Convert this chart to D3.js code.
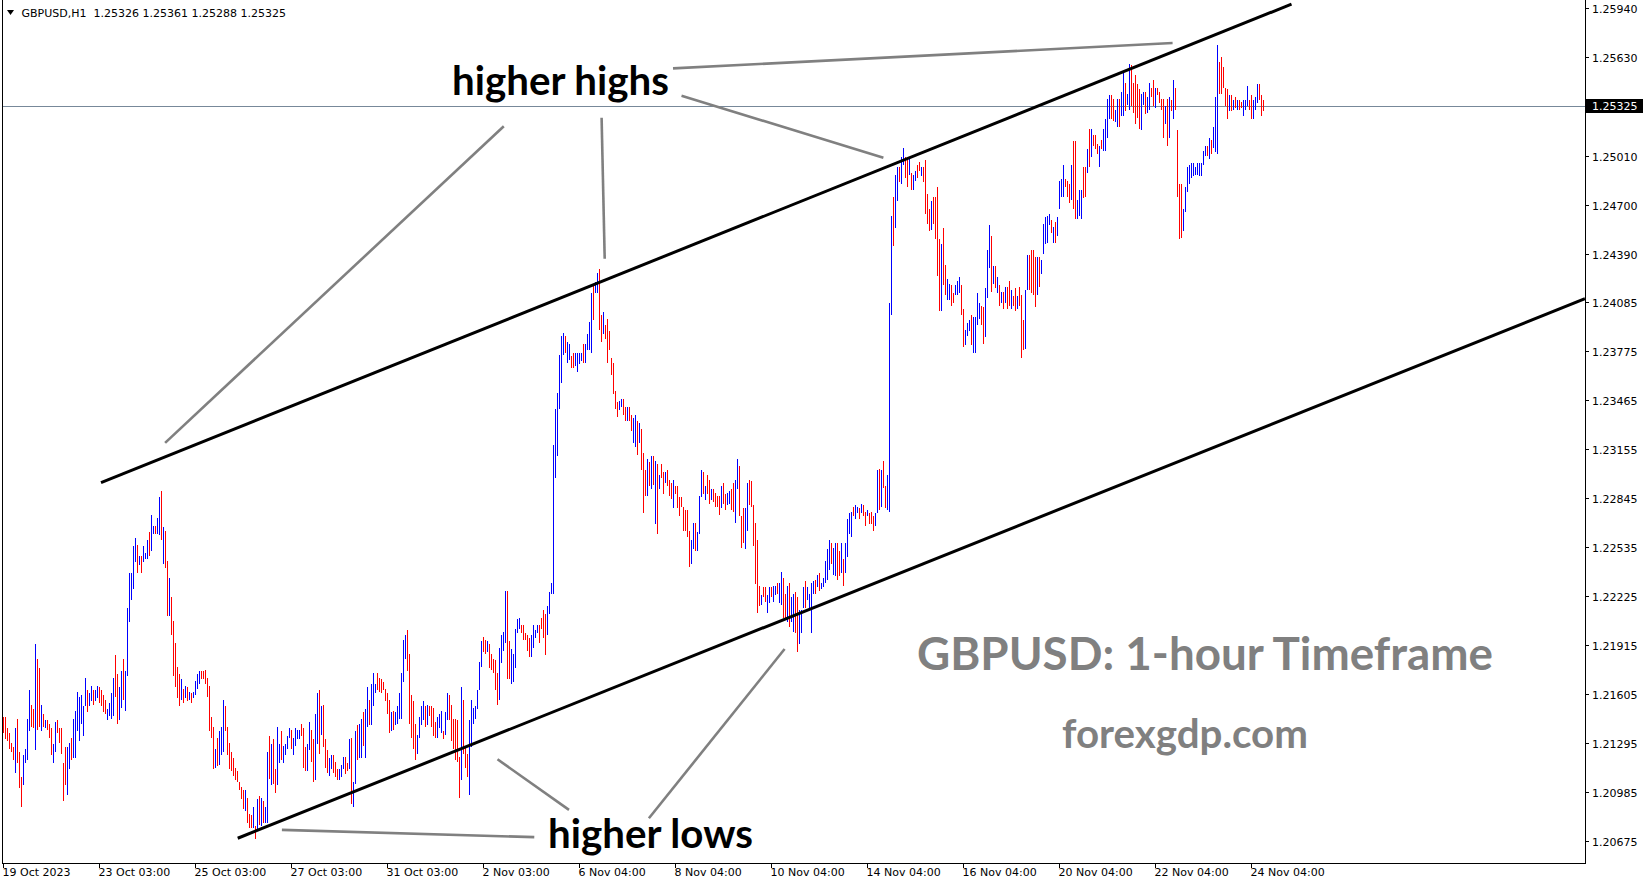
<!DOCTYPE html>
<html>
<head>
<meta charset="utf-8">
<script src="https://cdn.jsdelivr.net/npm/d3@7/dist/d3.min.js"></script>
<style>
html,body{margin:0;padding:0;background:#fff;}
svg{display:block;}
</style>
</head>
<body>
<svg id="chart" width="1649" height="884"></svg>
<script>
// ---- DATA (GBPUSD H1 bars, 19 Oct 2023 03:00 -> 24 Nov 2023 10:00) ----
const symbolTitle = "GBPUSD,H1";
const lastOHLC = ["1.25326", "1.25361", "1.25288", "1.25325"];
const currentPrice = 1.25325;

const highs = [
1.2146,1.2146,1.2139,1.2136,1.2130,1.2127,1.2139,1.2145,1.2124,1.2108,1.2122,1.2126,1.2145,1.2163,1.2154,1.2151,1.2192,1.2183,1.2177,1.2154,
1.2148,1.2144,1.2144,1.2142,1.2139,1.2129,1.2143,1.2144,1.2139,1.2139,1.2117,1.2127,1.2127,1.2130,1.2133,1.2145,1.2150,1.2162,1.2159,1.2160,
1.2153,1.2171,1.2163,1.2161,1.2166,1.2163,1.2163,1.2166,1.2165,1.2163,1.2160,1.2157,1.2151,1.2155,1.2161,1.2171,1.2185,1.2173,1.2165,1.2175,
1.2183,1.2175,1.2215,1.2237,1.2237,1.2254,1.2259,1.2255,1.2248,1.2248,1.2254,1.2250,1.2258,1.2263,1.2274,1.2267,1.2267,1.2272,1.2285,1.2289,
1.2266,1.2264,1.2245,1.2234,1.2222,1.2207,1.2193,1.2178,1.2173,1.2170,1.2164,1.2166,1.2165,1.2162,1.2161,1.2162,1.2169,1.2173,1.2175,1.2175,
1.2175,1.2176,1.2171,1.2166,1.2146,1.2140,1.2126,1.2133,1.2137,1.2140,1.2157,1.2153,1.2140,1.2130,1.2124,1.2120,1.2114,1.2112,1.2105,1.2102,
1.2100,1.2100,1.2095,1.2085,1.2084,1.2089,1.2077,1.2094,1.2096,1.2095,1.2093,1.2089,1.2124,1.2134,1.2129,1.2132,1.2113,1.2140,1.2129,1.2137,
1.2128,1.2129,1.2134,1.2139,1.2138,1.2133,1.2139,1.2138,1.2138,1.2142,1.2139,1.2127,1.2129,1.2143,1.2138,1.2132,1.2148,1.2161,1.2163,1.2153,
1.2154,1.2132,1.2125,1.2120,1.2122,1.2122,1.2118,1.2113,1.2113,1.2116,1.2121,1.2121,1.2117,1.2132,1.2133,1.2105,1.2137,1.2141,1.2142,1.2145,
1.2149,1.2151,1.2165,1.2157,1.2167,1.2174,1.2167,1.2174,1.2171,1.2170,1.2168,1.2164,1.2161,1.2157,1.2149,1.2150,1.2149,1.2153,1.2161,1.2174,
1.2195,1.2198,1.2201,1.2186,1.2160,1.2156,1.2142,1.2135,1.2146,1.2153,1.2156,1.2153,1.2154,1.2153,1.2153,1.2152,1.2143,1.2146,1.2148,1.2150,
1.2137,1.2149,1.2161,1.2160,1.2154,1.2145,1.2145,1.2144,1.2121,1.2165,1.2157,1.2128,1.2123,1.2144,1.2157,1.2152,1.2153,1.2163,1.2181,1.2194,
1.2197,1.2195,1.2194,1.2192,1.2186,1.2183,1.2182,1.2174,1.2190,1.2198,1.2200,1.2226,1.2226,1.2194,1.2189,1.2186,1.2202,1.2208,1.2209,1.2204,
1.2204,1.2199,1.2198,1.2196,1.2198,1.2204,1.2201,1.2204,1.2204,1.2209,1.2214,1.2211,1.2216,1.2225,1.2231,1.2318,1.2341,1.2351,1.2375,1.2387,
1.2389,1.2387,1.2383,1.2382,1.2374,1.2376,1.2376,1.2376,1.2376,1.2376,1.2382,1.2382,1.2388,1.2396,1.2414,1.2420,1.2421,1.2427,1.2429,1.2400,
1.2402,1.2394,1.2398,1.2390,1.2373,1.2370,1.2352,1.2345,1.2346,1.2347,1.2347,1.2342,1.2342,1.2342,1.2337,1.2335,1.2337,1.2333,1.2332,1.2328,
1.2313,1.2302,1.2309,1.2307,1.2311,1.2311,1.2308,1.2306,1.2299,1.2306,1.2301,1.2301,1.2302,1.2296,1.2294,1.2296,1.2292,1.2292,1.2285,1.2285,
1.2279,1.2277,1.2277,1.2264,1.2258,1.2269,1.2269,1.2263,1.2286,1.2302,1.2301,1.2292,1.2299,1.2296,1.2290,1.2290,1.2288,1.2286,1.2286,1.2292,
1.2294,1.2287,1.2288,1.2289,1.2290,1.2294,1.2296,1.2309,1.2305,1.2273,1.2278,1.2278,1.2294,1.2296,1.2295,1.2280,1.2269,1.2258,1.2229,1.2223,
1.2228,1.2228,1.2223,1.2228,1.2228,1.2229,1.2229,1.2231,1.2231,1.2238,1.2234,1.2224,1.2229,1.2231,1.2222,1.2224,1.2225,1.2222,1.2214,1.2214,
1.2228,1.2232,1.2228,1.2224,1.2231,1.2232,1.2233,1.2236,1.2237,1.2231,1.2234,1.2245,1.2252,1.2258,1.2256,1.2253,1.2256,1.2256,1.2251,1.2256,
1.2246,1.2256,1.2271,1.2275,1.2276,1.2279,1.2280,1.2279,1.2278,1.2281,1.2280,1.2276,1.2277,1.2275,1.2276,1.2273,1.2275,1.2302,1.2303,1.2302,
1.2308,1.2292,1.2299,1.2408,1.2463,1.2475,1.2489,1.2494,1.2494,1.2500,1.2506,1.2500,1.2499,1.2500,1.2490,1.2489,1.2491,1.2495,1.2497,1.2494,
1.2494,1.2498,1.2477,1.2467,1.2472,1.2475,1.2475,1.2481,1.2448,1.2445,1.2455,1.2432,1.2423,1.2420,1.2419,1.2414,1.2419,1.2422,1.2424,1.2419,
1.2404,1.2391,1.2395,1.2397,1.2400,1.2399,1.2399,1.2414,1.2408,1.2406,1.2405,1.2417,1.2441,1.2457,1.2450,1.2431,1.2431,1.2424,1.2419,1.2415,
1.2415,1.2418,1.2418,1.2422,1.2416,1.2412,1.2417,1.2412,1.2418,1.2413,1.2397,1.2416,1.2438,1.2438,1.2441,1.2441,1.2437,1.2437,1.2437,1.2435,
1.2458,1.2462,1.2463,1.2464,1.2460,1.2456,1.2459,1.2462,1.2485,1.2486,1.2495,1.2486,1.2485,1.2483,1.2495,1.2510,1.2510,1.2473,1.2479,1.2479,
1.2494,1.2494,1.2505,1.2518,1.2518,1.2514,1.2514,1.2508,1.2507,1.2511,1.2518,1.2524,1.2537,1.2539,1.2539,1.2537,1.2530,1.2537,1.2537,1.2541,
1.2553,1.2547,1.2540,1.2559,1.2558,1.2547,1.2552,1.2546,1.2543,1.2540,1.2541,1.2541,1.2538,1.2547,1.2544,1.2549,1.2544,1.2544,1.2541,1.2537,
1.2537,1.2532,1.2537,1.2538,1.2536,1.2549,1.2544,1.2517,1.2483,1.2483,1.2467,1.2481,1.2494,1.2495,1.2496,1.2496,1.2494,1.2496,1.2496,1.2496,
1.2504,1.2507,1.2507,1.2512,1.2511,1.2519,1.2538,1.2571,1.2560,1.2563,1.2557,1.2544,1.2543,1.2539,1.2539,1.2536,1.2538,1.2536,1.2536,1.2535,
1.2536,1.2536,1.2545,1.2536,1.2539,1.2536,1.2538,1.2546,1.2546,1.2539,1.2536
];

const lows = [
1.2136,1.2132,1.2131,1.2126,1.2124,1.2119,1.2111,1.2117,1.2101,1.2089,1.2103,1.2117,1.2119,1.2137,1.2140,1.2139,1.2125,1.2138,1.2140,1.2137,
1.2140,1.2139,1.2138,1.2133,1.2122,1.2117,1.2124,1.2136,1.2130,1.2123,1.2093,1.2103,1.2097,1.2113,1.2119,1.2120,1.2120,1.2137,1.2131,1.2142,
1.2134,1.2153,1.2149,1.2153,1.2156,1.2154,1.2156,1.2158,1.2155,1.2153,1.2149,1.2148,1.2144,1.2147,1.2145,1.2147,1.2159,1.2142,1.2144,1.2152,
1.2157,1.2150,1.2172,1.2206,1.2220,1.2227,1.2244,1.2237,1.2242,1.2237,1.2244,1.2246,1.2246,1.2248,1.2251,1.2262,1.2262,1.2262,1.2261,1.2258,
1.2243,1.2240,1.2210,1.2210,1.2198,1.2172,1.2165,1.2158,1.2153,1.2157,1.2155,1.2158,1.2156,1.2157,1.2155,1.2158,1.2160,1.2164,1.2167,1.2170,
1.2170,1.2167,1.2159,1.2137,1.2133,1.2113,1.2114,1.2115,1.2116,1.2122,1.2124,1.2137,1.2122,1.2113,1.2112,1.2109,1.2106,1.2105,1.2100,1.2094,
1.2088,1.2087,1.2079,1.2076,1.2076,1.2076,1.2069,1.2075,1.2078,1.2077,1.2079,1.2079,1.2079,1.2107,1.2103,1.2104,1.2098,1.2103,1.2117,1.2119,
1.2117,1.2122,1.2126,1.2133,1.2126,1.2122,1.2128,1.2132,1.2132,1.2134,1.2114,1.2112,1.2112,1.2125,1.2118,1.2105,1.2106,1.2129,1.2123,1.2135,
1.2127,1.2114,1.2111,1.2109,1.2113,1.2111,1.2108,1.2106,1.2106,1.2108,1.2113,1.2110,1.2112,1.2113,1.2091,1.2089,1.2104,1.2119,1.2120,1.2120,
1.2128,1.2120,1.2140,1.2141,1.2141,1.2153,1.2161,1.2163,1.2162,1.2161,1.2163,1.2156,1.2148,1.2136,1.2137,1.2138,1.2141,1.2142,1.2145,1.2145,
1.2168,1.2183,1.2175,1.2142,1.2133,1.2126,1.2119,1.2123,1.2133,1.2141,1.2144,1.2140,1.2141,1.2147,1.2140,1.2134,1.2133,1.2133,1.2139,1.2136,
1.2132,1.2135,1.2144,1.2144,1.2131,1.2126,1.2119,1.2118,1.2095,1.2106,1.2123,1.2114,1.2108,1.2097,1.2127,1.2142,1.2145,1.2151,1.2163,1.2178,
1.2187,1.2186,1.2187,1.2177,1.2176,1.2174,1.2163,1.2154,1.2157,1.2180,1.2188,1.2193,1.2170,1.2170,1.2167,1.2168,1.2177,1.2199,1.2202,1.2199,
1.2195,1.2195,1.2188,1.2184,1.2184,1.2190,1.2196,1.2199,1.2193,1.2202,1.2196,1.2185,1.2198,1.2211,1.2224,1.2224,1.2297,1.2311,1.2341,1.2357,
1.2375,1.2376,1.2370,1.2372,1.2367,1.2367,1.2368,1.2364,1.2369,1.2371,1.2370,1.2370,1.2378,1.2378,1.2376,1.2397,1.2414,1.2414,1.2391,1.2383,
1.2388,1.2385,1.2370,1.2378,1.2362,1.2350,1.2341,1.2336,1.2340,1.2342,1.2337,1.2333,1.2333,1.2333,1.2327,1.2319,1.2317,1.2312,1.2319,1.2302,
1.2275,1.2286,1.2286,1.2292,1.2290,1.2293,1.2268,1.2262,1.2290,1.2297,1.2287,1.2294,1.2292,1.2286,1.2284,1.2278,1.2287,1.2278,1.2273,1.2279,
1.2264,1.2264,1.2260,1.2241,1.2243,1.2252,1.2251,1.2251,1.2262,1.2285,1.2287,1.2283,1.2287,1.2281,1.2283,1.2282,1.2279,1.2279,1.2274,1.2278,
1.2281,1.2277,1.2280,1.2281,1.2277,1.2276,1.2269,1.2290,1.2273,1.2253,1.2256,1.2252,1.2264,1.2280,1.2279,1.2254,1.2230,1.2212,1.2216,1.2217,
1.2222,1.2219,1.2212,1.2218,1.2222,1.2219,1.2223,1.2224,1.2218,1.2217,1.2209,1.2208,1.2206,1.2203,1.2206,1.2200,1.2199,1.2187,1.2192,1.2199,
1.2215,1.2215,1.2220,1.2215,1.2199,1.2224,1.2224,1.2228,1.2226,1.2227,1.2228,1.2231,1.2233,1.2239,1.2243,1.2236,1.2235,1.2233,1.2235,1.2237,
1.2229,1.2237,1.2247,1.2262,1.2260,1.2273,1.2271,1.2275,1.2271,1.2275,1.2273,1.2267,1.2273,1.2268,1.2268,1.2264,1.2267,1.2275,1.2277,1.2279,
1.2291,1.2278,1.2277,1.2276,1.2400,1.2444,1.2455,1.2472,1.2484,1.2483,1.2495,1.2487,1.2481,1.2489,1.2479,1.2479,1.2485,1.2487,1.2491,1.2488,
1.2484,1.2464,1.2458,1.2453,1.2454,1.2458,1.2448,1.2425,1.2403,1.2403,1.2419,1.2413,1.2410,1.2410,1.2406,1.2408,1.2413,1.2413,1.2414,1.2400,
1.2380,1.2381,1.2387,1.2390,1.2381,1.2376,1.2376,1.2394,1.2398,1.2394,1.2382,1.2386,1.2411,1.2430,1.2415,1.2420,1.2417,1.2414,1.2406,1.2408,
1.2404,1.2408,1.2404,1.2406,1.2404,1.2406,1.2403,1.2404,1.2406,1.2373,1.2378,1.2379,1.2416,1.2416,1.2414,1.2413,1.2405,1.2413,1.2418,1.2426,
1.2439,1.2445,1.2446,1.2457,1.2452,1.2446,1.2446,1.2450,1.2467,1.2475,1.2475,1.2481,1.2475,1.2471,1.2473,1.2467,1.2461,1.2461,1.2463,1.2461,
1.2474,1.2475,1.2490,1.2494,1.2500,1.2507,1.2505,1.2502,1.2494,1.2505,1.2504,1.2504,1.2512,1.2524,1.2524,1.2523,1.2522,1.2519,1.2519,1.2526,
1.2526,1.2529,1.2533,1.2530,1.2532,1.2528,1.2521,1.2525,1.2518,1.2517,1.2533,1.2527,1.2528,1.2530,1.2538,1.2532,1.2531,1.2539,1.2534,1.2530,
1.2512,1.2521,1.2507,1.2512,1.2529,1.2524,1.2530,1.2475,1.2448,1.2449,1.2453,1.2465,1.2478,1.2483,1.2487,1.2488,1.2489,1.2489,1.2488,1.2488,
1.2495,1.2501,1.2501,1.2499,1.2502,1.2506,1.2503,1.2502,1.2540,1.2540,1.2544,1.2532,1.2524,1.2529,1.2529,1.2530,1.2531,1.2530,1.2530,1.2531,
1.2526,1.2530,1.2532,1.2530,1.2524,1.2524,1.2530,1.2534,1.2536,1.2526,1.2529
];

// 1 = bullish bar (blue), 0 = bearish bar (red)
const barUp = [
0,0,0,0,0,0,1,0,0,0,1,1,1,1,0,0,1,0,0,1,
0,1,0,0,0,1,1,0,0,0,0,0,1,1,0,1,1,1,1,1,
1,1,0,1,1,0,1,1,0,0,0,0,1,1,1,1,0,0,1,1,
0,1,1,1,1,1,1,0,1,0,1,1,1,0,1,1,0,1,1,0,
1,0,0,1,0,0,0,0,0,1,0,1,0,1,0,1,1,1,1,0,
0,0,0,0,0,0,1,0,1,1,1,0,0,0,0,0,0,0,0,0,
0,1,0,0,0,1,0,1,0,1,0,1,1,0,1,0,0,1,1,0,
1,1,1,1,0,1,1,1,1,0,0,0,1,1,0,0,1,1,0,1,
0,0,0,1,1,0,0,0,1,1,1,0,0,1,0,1,1,0,1,1,
0,1,1,0,1,1,1,0,0,0,0,0,0,0,1,0,1,1,1,1,
1,1,0,0,0,0,0,1,1,1,1,0,1,0,0,0,0,1,1,1,
0,1,1,0,0,0,0,0,0,1,0,0,0,1,1,1,1,1,1,1,
0,0,1,0,0,0,0,0,1,1,1,1,0,0,1,1,1,1,1,0,
0,0,0,0,1,1,1,1,0,0,0,0,1,1,1,1,1,1,1,1,
1,0,1,1,0,0,1,1,1,1,0,1,1,1,1,0,1,1,0,0,
1,0,0,0,0,0,0,0,1,1,0,0,1,0,0,1,1,0,1,0,
0,0,1,0,1,0,1,0,1,0,0,1,0,0,0,1,0,0,0,0,
0,0,0,0,1,1,0,1,1,1,0,1,0,0,1,0,0,0,0,1,
0,0,1,1,0,0,1,1,0,0,0,1,1,0,0,0,0,0,0,1,
0,0,1,1,0,1,1,0,1,1,0,0,1,0,1,1,0,0,1,1,
1,0,1,1,1,1,0,1,0,1,1,1,1,1,0,1,1,0,0,1,
0,1,1,1,1,0,1,1,0,1,0,0,1,0,0,0,1,1,0,1,
0,0,1,1,1,0,1,1,0,1,1,0,0,1,0,1,1,0,0,1,
0,0,0,0,1,0,0,0,0,1,0,0,1,1,0,0,1,1,1,0,
0,1,1,1,0,1,1,1,1,0,0,1,1,1,0,1,0,1,0,1,
0,1,0,0,1,0,0,1,0,0,0,1,1,0,0,0,0,1,0,1,
1,1,1,1,0,1,0,1,1,1,1,0,0,0,1,0,0,1,1,1,
0,0,1,0,1,0,0,0,1,0,1,1,1,1,0,0,1,1,0,1,
1,0,1,1,0,0,0,0,0,1,1,0,1,1,0,0,1,0,0,0,
0,1,0,1,0,1,0,0,0,0,1,1,1,1,1,1,1,1,1,1,
1,1,0,1,0,1,1,1,0,0,0,0,0,1,0,1,0,1,0,0,
1,1,1,0,0,1,1,1,0,0,0
];

// x-axis labels, one every 48 bars
const timeLabels = ["19 Oct 2023","23 Oct 03:00","25 Oct 03:00","27 Oct 03:00","31 Oct 03:00","2 Nov 03:00","6 Nov 04:00",
  "8 Nov 04:00","10 Nov 04:00","14 Nov 04:00","16 Nov 04:00","20 Nov 04:00","22 Nov 04:00","24 Nov 04:00"];
const timeLabelBars = [0,48,96,144,192,240,288,336,384,432,480,528,576,624];

// price-axis labels
const priceTicks = [1.25940,1.25630,1.25010,1.24700,1.24390,1.24085,1.23775,1.23465,1.23155,1.22845,
  1.22535,1.22225,1.21915,1.21605,1.21295,1.20985,1.20675];

// channel (trend) lines in [barIndex, price]
const upperChannel = [[49, 1.22942], [644.25, 1.25967]];
const lowerChannel = [[117.35, 1.20695], [791, 1.24105]];

// grey pointer lines in [barIndex, price]
const pointerLines = [
  [[335, 1.25561], [584.8, 1.25721]],
  [[339.25, 1.25388], [440.2, 1.24996]],
  [[299.3, 1.25249], [300.85, 1.24358]],
  [[250.4, 1.25195], [81.05, 1.23194]],
  [[139.45, 1.20748], [265.65, 1.20702]],
  [[247.25, 1.21194], [283, 1.20874]],
  [[322.95, 1.20821], [390.8, 1.21891]]
];

// ---- DRAWING ----
const W = 1649, H = 884;
const plot = {left: 2, right: 1585, top: 0, bottom: 863};
const svg = d3.select("#chart");
svg.append("rect").attr("width", W).attr("height", H).attr("fill", "#fff");

const x = d3.scaleLinear().domain([0, 630]).range([3, 1263]);
const y = d3.scaleLinear().domain([1.20675, 1.25940]).range([841.4, 8.4]);

svg.append("clipPath").attr("id", "plotclip").append("rect")
  .attr("x", plot.left).attr("y", plot.top)
  .attr("width", plot.right - plot.left).attr("height", plot.bottom - plot.top);

const g = svg.append("g").attr("clip-path", "url(#plotclip)");

// current price line
g.append("line")
  .attr("x1", plot.left).attr("x2", plot.right)
  .attr("y1", Math.round(y(currentPrice)) + 0.5).attr("y2", Math.round(y(currentPrice)) + 0.5)
  .attr("stroke", "#778899").attr("stroke-width", 1).attr("shape-rendering", "crispEdges");

// bars
const bars = highs.map((h, i) => ({i, h, l: lows[i], up: barUp[i]}));
g.append("g").selectAll("rect").data(bars).join("rect")
  .attr("x", d => Math.round(x(d.i)))
  .attr("y", d => Math.round(y(d.h)))
  .attr("width", 1)
  .attr("height", d => Math.max(1, Math.round(y(d.l)) - Math.round(y(d.h))))
  .attr("fill", d => d.up ? "#0000ff" : "#ff0000")
  .attr("shape-rendering", "crispEdges");

// channel lines
const lineGen = d3.line().x(d => x(d[0])).y(d => y(d[1]));
[upperChannel, lowerChannel].forEach(c => {
  g.append("path").attr("d", lineGen(c)).attr("fill", "none")
    .attr("stroke", "#000").attr("stroke-width", 3).attr("stroke-linecap", "butt");
});

// grey pointers
pointerLines.forEach(c => {
  g.append("path").attr("d", lineGen(c)).attr("fill", "none")
    .attr("stroke", "#808080").attr("stroke-width", 2.6).attr("stroke-linecap", "butt");
});

// annotation texts
function fitText(t, w) {
  const l = t.node().getComputedTextLength();
  const fs = parseFloat(t.attr("font-size"));
  t.attr("font-size", (fs * w / l).toFixed(2));
}
const annFont = "Lato, 'Open Sans', sans-serif";
const annotations = [
  {text: "higher highs", x: 452, y: 94.7, w: 217, color: "#000"},
  {text: "higher lows", x: 548, y: 848, w: 205, color: "#000"},
  {text: "GBPUSD: 1-hour Timeframe", x: 917, y: 670, w: 576, color: "#808080"},
  {text: "forexgdp.com", x: 1062, y: 748, w: 246, color: "#808080"}
];
annotations.forEach(a => {
  const t = svg.append("text").attr("x", a.x).attr("y", a.y)
    .attr("font-family", annFont).attr("font-weight", 700).attr("font-size", 40)
    .attr("fill", a.color).text(a.text);
  fitText(t, a.w);
});

// frame
const axisFont = "'DejaVu Sans', Tahoma, sans-serif";
svg.append("line").attr("x1", plot.left + 0.5).attr("x2", plot.left + 0.5)
  .attr("y1", plot.top).attr("y2", plot.bottom + 0.5)
  .attr("stroke", "#000").attr("shape-rendering", "crispEdges");
svg.append("line").attr("x1", plot.right + 0.5).attr("x2", plot.right + 0.5)
  .attr("y1", plot.top).attr("y2", plot.bottom + 1)
  .attr("stroke", "#000").attr("shape-rendering", "crispEdges");
svg.append("line").attr("x1", plot.left).attr("x2", plot.right + 1)
  .attr("y1", plot.bottom + 0.5).attr("y2", plot.bottom + 0.5)
  .attr("stroke", "#000").attr("shape-rendering", "crispEdges");

// right price axis
const ya = svg.append("g");
priceTicks.forEach(p => {
  const yy = Math.round(y(p)) + 0.5;
  ya.append("line").attr("x1", plot.right + 1).attr("x2", plot.right + 4)
    .attr("y1", yy).attr("y2", yy).attr("stroke", "#000").attr("shape-rendering", "crispEdges");
  ya.append("text").attr("x", 1592).attr("y", yy + 4)
    .attr("font-family", axisFont).attr("font-size", 11).attr("fill", "#000")
    .text(p.toFixed(5));
});
// current price label
const cy = Math.round(y(currentPrice));
ya.append("rect").attr("x", plot.right + 1).attr("y", cy - 7).attr("width", 57).attr("height", 14).attr("fill", "#000");
ya.append("text").attr("x", 1592).attr("y", cy + 4)
  .attr("font-family", axisFont).attr("font-size", 11).attr("fill", "#fff")
  .text(currentPrice.toFixed(5));

// bottom time axis
const xa = svg.append("g");
timeLabelBars.forEach((b, k) => {
  const xx = Math.round(x(b)) + 0.5;
  xa.append("line").attr("x1", xx).attr("x2", xx).attr("y1", plot.bottom + 1).attr("y2", plot.bottom + 5)
    .attr("stroke", "#000").attr("shape-rendering", "crispEdges");
  xa.append("text").attr("x", xx - 1).attr("y", plot.bottom + 13)
    .attr("font-family", axisFont).attr("font-size", 11).attr("fill", "#000")
    .text(timeLabels[k]);
});

// header
svg.append("path").attr("d", "M7,10 L14,10 L10.5,15 Z").attr("fill", "#000");
svg.append("text").attr("x", 21.5).attr("y", 17)
  .attr("font-family", axisFont).attr("font-size", 11).attr("fill", "#000")
  .attr("xml:space", "preserve").style("white-space", "pre")
  .text(symbolTitle + "  " + lastOHLC.join(" "));
</script>
</body>
</html>
